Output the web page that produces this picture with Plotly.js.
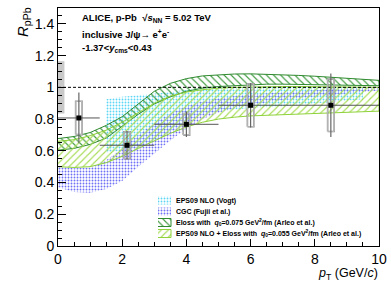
<!DOCTYPE html>
<html>
<head>
<meta charset="utf-8">
<script src="https://cdn.plot.ly/plotly-3.0.1.min.js"></script>
<style>
html,body{margin:0;padding:0;background:#fff;}
#chart{width:391px;height:283px;}
</style>
</head>
<body>
<div id="chart"></div>
<script>
// ---------------- data ----------------
const ptGrid = [0,0.5,1,1.5,2,2.5,3,3.5,4,4.5,5,5.5,6,6.5,7,7.5,8,8.5,9,9.5,10];

const elossUpper = [0.677,0.69,0.715,0.76,0.815,0.895,0.975,1.025,1.055,1.072,1.08,1.084,1.085,1.083,1.08,1.075,1.07,1.063,1.057,1.05,1.044];
const elossLower = [0.604,0.615,0.64,0.68,0.755,0.83,0.895,0.94,0.975,0.995,1.005,1.01,1.015,1.02,1.02,1.02,1.02,1.018,1.015,1.012,1.01];

const epsElossUpper = [0.66,0.67,0.695,0.73,0.78,0.84,0.90,0.945,0.97,0.985,0.995,1.0,1.003,1.005,1.005,1.005,1.004,1.003,1.002,1.001,1.0];
const epsElossLower = [0.50,0.495,0.50,0.525,0.565,0.615,0.665,0.71,0.75,0.78,0.80,0.812,0.82,0.826,0.83,0.834,0.837,0.84,0.843,0.846,0.85];

const cgcUpper = [0.50,0.49,0.495,0.54,0.615,0.70,0.775,0.835,0.88,0.91,0.93,0.945,0.955,0.963,0.97,0.976,0.982,0.987,0.992,0.996,1.0];
const cgcLower = [0.37,0.34,0.335,0.36,0.41,0.50,0.585,0.665,0.74,0.80,0.84,0.87,0.89,0.905,0.92,0.932,0.943,0.953,0.962,0.971,0.98];

const epsGrid  = [1.5,2,2.5,3,3.5,4,4.5,5,5.5,6,6.5,7,7.5,8,8.5,9,9.5];
const epsUpper = [0.925,0.94,0.95,0.96,0.97,0.985,0.995,1.0,1.0,1.0,1.0,1.0,1.0,1.0,1.0,1.0,1.0];
const epsLower = [0.59,0.60,0.625,0.66,0.72,0.79,0.83,0.85,0.86,0.87,0.875,0.88,0.888,0.895,0.905,0.915,0.925];

const ptCenter = [0.65,2.15,4.0,6.0,8.5];
const binLow   = [0,1.3,3,5,7];
const binHigh  = [1.3,3,5,7,10];
const rpPb     = [0.807,0.635,0.767,0.887,0.887];
const statErr  = [0.16,0.09,0.08,0.14,0.20];
const systErr  = [0.105,0.085,0.068,0.135,0.165];
const globalUnc = 0.165;

const legendLabels = [
  "EPS09 NLO (Vogt)",
  "CGC (Fujii et al.)",
  "Eloss with  <i>q</i><sub>0</sub>=0.075 GeV<sup>2</sup>/fm (Arleo et al.)",
  "EPS09 NLO + Eloss with  <i>q</i><sub>0</sub>=0.055 GeV<sup>2</sup>/fm (Arleo et al.)"
];

// ---------------- styles ----------------
const FONT = "Liberation Sans, Arial, Helvetica, sans-serif";
const styles = [
  {fg:'#5cd6f5', shape:'.', size:3, sol:0.3, line:'rgba(0,0,0,0)', lw:0},
  {fg:'#6f6ff7', shape:'.', size:3, sol:0.3, line:'rgba(0,0,0,0)', lw:0},
  {fg:'#3f9a3f', shape:'\\', size:5, sol:0.22, line:'#2f8a2f', lw:1},
  {fg:'#a6dc55', shape:'/', size:5, sol:0.22, line:'#8fd23a', lw:1}
];

function band(xs, up, lo, st, xa, ya) {
  return {
    type:'scatter', mode:'lines', xaxis:xa||'x', yaxis:ya||'y',
    x: xs.concat(xs.slice().reverse()),
    y: up.concat(lo.slice().reverse()),
    fill:'toself', fillcolor:'rgba(0,0,0,0)',
    fillpattern:{shape:st.shape, fgcolor:st.fg, bgcolor:'rgba(0,0,0,0)', size:st.size, solidity:st.sol},
    line:{color:st.line, width:st.lw}, hoverinfo:'skip', showlegend:false
  };
}

const traces = [];
traces.push(band(epsGrid, epsUpper, epsLower, styles[0]));
traces.push(band(ptGrid, cgcUpper, cgcLower, styles[1]));
traces.push(band(ptGrid, elossUpper, elossLower, styles[2]));
traces.push(band(ptGrid, epsElossUpper, epsElossLower, styles[3]));

// global uncertainty box
traces.push({
  type:'scatter', mode:'lines', x:[0,0.2,0.2,0,0], y:[1-globalUnc,1-globalUnc,1+globalUnc,1+globalUnc,1-globalUnc],
  fill:'toself', fillcolor:'#c9c9c9', line:{width:0, color:'#c9c9c9'}, hoverinfo:'skip', showlegend:false
});
// unity line
traces.push({type:'scatter', mode:'lines', x:[0,10], y:[1,1], line:{color:'#000', width:1, dash:'3px,2px'}, hoverinfo:'skip', showlegend:false});

// systematic boxes
const boxHalf = 0.1;
const bx = [], by = [];
ptCenter.forEach((x,i)=>{
  const y0 = rpPb[i]-systErr[i], y1 = rpPb[i]+systErr[i];
  bx.push(x-boxHalf, x+boxHalf, x+boxHalf, x-boxHalf, x-boxHalf, null);
  by.push(y0, y0, y1, y1, y0, null);
});
traces.push({type:'scatter', mode:'lines', x:bx, y:by, line:{color:'#8c8c8c', width:1.6}, hoverinfo:'skip', showlegend:false});
traces.push({type:'scatter', mode:'lines', x:bx, y:by, line:{color:'#ffffff', width:0.4}, hoverinfo:'skip', showlegend:false});

// data points
traces.push({
  type:'scatter', mode:'markers', x:ptCenter, y:rpPb,
  marker:{symbol:'square', size:5, color:'#000'},
  error_y:{type:'data', array:statErr, color:'#666', thickness:1.2, width:0},
  error_x:{type:'data', symmetric:false,
    array: ptCenter.map((x,i)=>binHigh[i]-x),
    arrayminus: ptCenter.map((x,i)=>x-binLow[i]),
    color:'#555', thickness:1, width:0},
  hoverinfo:'skip', showlegend:false
});

// legend swatches on pixel-like overlay axes
const legX0 = 158, legX1 = 171, legY = [200.5, 211.5, 222.5, 233.5], legH = 4;
legY.forEach((yc,i)=>{
  traces.push(band([legX0, legX1], [yc-legH, yc-legH], [yc+legH, yc+legH], styles[i], 'x2', 'y2'));
});

const annotations = [];
legendLabels.forEach((txt,i)=>{
  annotations.push({xref:'x2', yref:'y2', x:174, y:legY[i], text:'<b>'+txt+'</b>', showarrow:false,
    xanchor:'left', yanchor:'middle', font:{family:FONT, size:7, color:'#000'}});
});
const headerLines = [
  "ALICE, p-Pb  √<i>s</i><sub>NN</sub> = 5.02 TeV",
  "inclusive J/ψ→ e<sup>+</sup>e<sup>-</sup>",
  "-1.37<<i>y</i><sub>cms</sub><0.43"
];
const headerY = [18, 33.5, 48];
headerLines.forEach((txt,i)=>{
  annotations.push({xref:'x2', yref:'y2', x:80, y:headerY[i], text:'<b>'+txt+'</b>', showarrow:false,
    xanchor:'left', yanchor:'middle', font:{family:FONT, size:9.5, color:'#000'}});
});
// axis titles in paper coordinates (pixel -> paper)
const px = X => (X-58)/321, py = Y => (246-Y)/238;
annotations.push({xref:'paper', yref:'paper', x:px(23), y:py(22), text:'<i>R</i><sub>pPb</sub>', textangle:-90, showarrow:false,
  xanchor:'center', yanchor:'middle', font:{family:FONT, size:15, color:'#000'}});
annotations.push({xref:'paper', yref:'paper', x:px(380), y:py(274), text:'<i>p</i><sub>T</sub> (GeV/<i>c</i>)', showarrow:false,
  xanchor:'right', yanchor:'middle', font:{family:FONT, size:12.5, color:'#000'}});

const layout = {
  width:391, height:283,
  margin:{l:58, r:12, t:8, b:37},
  paper_bgcolor:'#fff', plot_bgcolor:'#fff',
  font:{family:FONT, size:14, color:'#000'},
  showlegend:false,
  xaxis:{range:[0,10], dtick:2, tick0:0, ticks:'inside', ticklen:7, tickwidth:1, tickcolor:'#000',
    minor:{dtick:0.5, ticks:'inside', ticklen:4, tickcolor:'#000'},
    showline:true, linecolor:'#000', linewidth:1, mirror:true, showgrid:false, zeroline:false,
    tickfont:{size:14}, fixedrange:true},
  yaxis:{range:[0,1.5], dtick:0.2, tick0:0, ticks:'inside', ticklen:8, tickwidth:1, tickcolor:'#000',
    minor:{dtick:0.05, ticks:'inside', ticklen:4, tickcolor:'#000'},
    showline:true, linecolor:'#000', linewidth:1, mirror:true, showgrid:false, zeroline:false,
    tickfont:{size:14}, fixedrange:true},
  xaxis2:{overlaying:'x', anchor:'y2', range:[58,379], visible:false, fixedrange:true},
  yaxis2:{overlaying:'y', anchor:'x2', range:[246,8], visible:false, fixedrange:true},
  annotations:annotations
};

Plotly.newPlot('chart', traces, layout, {staticPlot:true, displayModeBar:false});
</script>
</body>
</html>
